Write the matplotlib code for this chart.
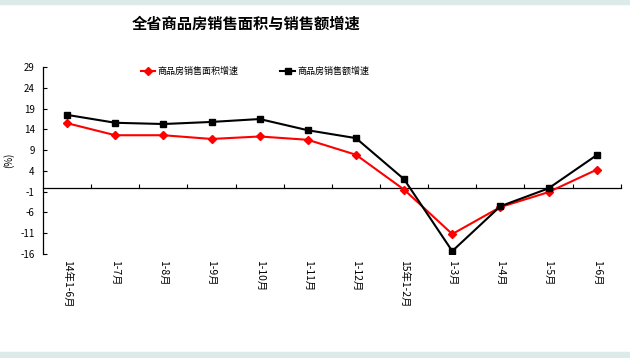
import matplotlib
matplotlib.use("Agg")
import matplotlib.pyplot as plt
from matplotlib.patches import Rectangle

plt.rcParams['font.family'] = ['Noto Sans CJK SC', 'DejaVu Sans']
plt.rcParams['axes.unicode_minus'] = False

# data
periods = ['14年1-6月', '1-7月', '1-8月', '1-9月', '1-10月', '1-11月', '1-12月',
           '15年1-2月', '1-3月', '1-4月', '1-5月', '1-6月']
area_growth = [15.5, 12.6, 12.6, 11.7, 12.3, 11.5, 7.9, -0.5, -11.2, -4.7, -1.1, 4.3]
sales_growth = [17.5, 15.6, 15.3, 15.8, 16.5, 13.8, 11.9, 2.0, -15.3, -4.5, -0.2, 7.8]
y_ticks = [-16, -11, -6, -1, 4, 9, 14, 19, 24, 29]

fig = plt.figure(figsize=(6.3, 3.58), dpi=100)
fig.patch.set_facecolor('white')
# thin light strips at the top and bottom edges
fig.patches.append(Rectangle((0, 0.99), 1, 0.01, transform=fig.transFigure,
                             color='#dceaea', zorder=0))
fig.patches.append(Rectangle((0, 0), 1, 0.018, transform=fig.transFigure,
                             color='#dceaea', zorder=0))

ax = fig.add_axes([0.0683, 0.2905, 0.917, 0.522])
ax.set_facecolor('none')

x = list(range(len(periods)))
ax.plot(x, area_growth, color='#ff0000', marker='D', markersize=4.5, lw=1.5,
        label='商品房销售面积增速', zorder=3)
ax.plot(x, sales_growth, color='black', marker='s', markersize=5, lw=1.5,
        label='商品房销售额增速', zorder=3)

ymin, ymax = -16, 29
ax.set_ylim(ymin, ymax)
ax.set_xlim(-0.5, len(periods) - 0.5)
ax.set_yticks(y_ticks)
ax.tick_params(axis='y', direction='in', length=3, labelsize=7, pad=6)

for s in ['top', 'right', 'bottom']:
    ax.spines[s].set_visible(False)
ax.spines['left'].set_linewidth(0.9)

# category labels at the bottom
ax.set_xticks(x)
ax.set_xticklabels(periods, rotation=-90, fontsize=7.5, va='top', ha='center')
ax.tick_params(axis='x', length=0, pad=4)

# zero line with category boundary ticks
zero_pos = (0 - ymin) / (ymax - ymin)
sec = ax.secondary_xaxis(zero_pos)
sec.spines['bottom'].set_linewidth(0.9)
sec.set_xticks([i + 0.5 for i in x[:-1]] + [len(periods) - 0.5])
sec.set_xticklabels([])
sec.tick_params(direction='in', length=3, width=0.8)

ax.text(-0.06, 0.5, '(%)', transform=ax.transAxes, rotation=90, fontsize=7,
        va='center', ha='center')

leg = ax.legend(loc='upper left', bbox_to_anchor=(0.155, 1.045), ncol=2,
                frameon=False, fontsize=6.5, handlelength=1.6, columnspacing=4.6,
                handletextpad=0.3)

fig.text(0.39, 0.935, '全省商品房销售面积与销售额增速', fontsize=11,
         fontweight='bold', ha='center', va='center')

fig.savefig('out.png', dpi=100)
